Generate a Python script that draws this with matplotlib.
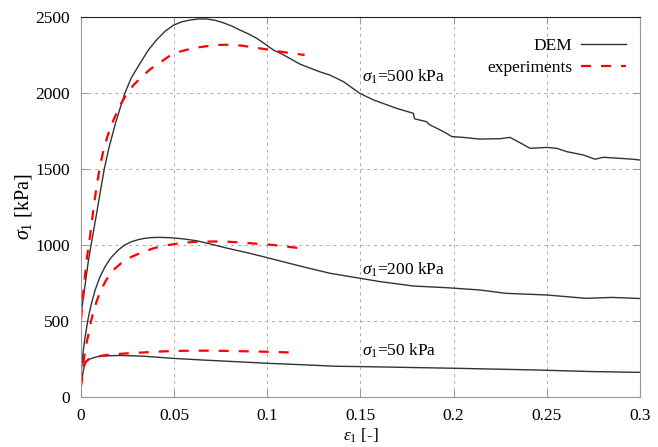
import matplotlib
matplotlib.use('Agg')
import matplotlib.pyplot as plt

plt.rcParams['font.family'] = ['Liberation Serif', 'DejaVu Serif']
plt.rcParams['mathtext.fontset'] = 'custom'
plt.rcParams['mathtext.rm'] = 'Liberation Serif'
plt.rcParams['mathtext.it'] = 'Liberation Serif:italic'

# DEM curves (eps1, sigma1)
dem500_e = [0, 0.002, 0.0039, 0.0054, 0.008, 0.0105, 0.0125, 0.015, 0.0185, 0.021,
            0.0236, 0.027, 0.0317, 0.036, 0.0406, 0.045, 0.0495, 0.054, 0.0585, 0.063,
            0.0675, 0.072, 0.0764, 0.081, 0.0853, 0.09, 0.0943, 0.099, 0.1032, 0.108,
            0.112, 0.1175, 0.121, 0.128, 0.1336, 0.1408, 0.1497, 0.157, 0.1694, 0.1784,
            0.179, 0.1855, 0.187, 0.1927, 0.1962, 0.199, 0.205, 0.2105, 0.214, 0.2249,
            0.2302, 0.2356, 0.241, 0.25, 0.2553, 0.2607, 0.2696, 0.2759, 0.2803, 0.2893,
            0.2964, 0.3]
dem500_s = [540, 720, 890, 1000, 1180, 1360, 1500, 1640, 1800, 1900,
            2000, 2100, 2195, 2280, 2350, 2405, 2445, 2468, 2480, 2487,
            2487, 2478, 2462, 2440, 2414, 2388, 2360, 2320, 2283, 2255,
            2228, 2190, 2173, 2140, 2118, 2075, 1997, 1954, 1899, 1866,
            1830, 1811, 1792, 1757, 1734, 1713, 1708, 1701, 1697, 1699,
            1708, 1673, 1636, 1642, 1636, 1614, 1592, 1564, 1577, 1570,
            1564, 1559]

dem200_e = [0, 0.001, 0.002, 0.0039, 0.0055, 0.0075, 0.01, 0.0129, 0.016, 0.02,
            0.0235, 0.0272, 0.031, 0.0343, 0.038, 0.042, 0.0478, 0.055, 0.062, 0.069,
            0.0764, 0.083, 0.0907, 0.1014, 0.11, 0.119, 0.1336, 0.1497, 0.1605, 0.1784,
            0.1962, 0.214, 0.228, 0.25, 0.271, 0.285, 0.3]
dem200_s = [150, 280, 380, 520, 610, 700, 785, 857, 915, 967,
            1000, 1022, 1036, 1044, 1049, 1050, 1048, 1040, 1028, 1008,
            985, 966, 945, 912, 885, 857, 814, 781, 759, 730,
            719, 704, 682, 671, 649, 655, 648]

dem50_e = [0, 0.0006, 0.0012, 0.002, 0.0027, 0.004, 0.0057, 0.008, 0.011, 0.0147,
           0.021, 0.028, 0.035, 0.0495, 0.0656, 0.0835, 0.1014, 0.119, 0.137, 0.15,
           0.2, 0.243, 0.275, 0.3]
dem50_s = [60, 130, 170, 210, 232, 246, 254, 263, 268, 271,
           273, 271, 267, 254, 243, 232, 221, 212, 202, 200,
           189, 178, 167, 162]

# experiments
exp500_e = [0, 0.0015, 0.003, 0.0048, 0.0066, 0.0084, 0.0102, 0.012, 0.0138, 0.016,
            0.0182, 0.021, 0.0236, 0.028, 0.0326, 0.037, 0.0424, 0.047, 0.053, 0.06,
            0.0675, 0.074, 0.08, 0.086, 0.0925, 0.099, 0.105, 0.112, 0.12]
exp500_s = [510, 720, 901, 1055, 1230, 1390, 1520, 1620, 1700, 1780,
            1844, 1920, 1976, 2050, 2107, 2155, 2200, 2240, 2272, 2295,
            2308, 2316, 2318, 2312, 2300, 2288, 2276, 2263, 2250]

exp200_e = [0, 0.0015, 0.0027, 0.0039, 0.0052, 0.0066, 0.0084, 0.0102, 0.0135, 0.0173,
            0.022, 0.0272, 0.033, 0.0388, 0.046, 0.053, 0.06, 0.0656, 0.072, 0.078,
            0.085, 0.0916, 0.098, 0.103, 0.11, 0.118]
exp200_s = [90, 250, 340, 408, 490, 560, 630, 691, 770, 835,
            885, 923, 953, 978, 998, 1012, 1019, 1022, 1023, 1022,
            1017, 1011, 1005, 1000, 990, 978]

exp50_e = [0, 0.0006, 0.0012, 0.0025, 0.0048, 0.0084, 0.013, 0.019, 0.026, 0.0334,
           0.044, 0.055, 0.069, 0.083, 0.098, 0.115]
exp50_s = [70, 140, 200, 232, 254, 266, 275, 282, 288, 293,
           300, 304, 305, 302, 298, 292]

labels = [r'$\sigma_{\mathit{1}}$=500 kPa', r'$\sigma_{\mathit{1}}$=200 kPa', r'$\sigma_{\mathit{1}}$=50 kPa']
label_y = [2105, 835, 303]

fig = plt.figure(figsize=(6.58, 4.47), dpi=100)
ax = fig.add_axes([0.1231, 0.1119, 0.8495, 0.8501])

dem_kw = dict(color='#333333', lw=1.0)
exp_kw = dict(color='#ff0000', lw=1.6, dashes=(4.5, 4.5))
ax.plot(dem500_e, dem500_s, label='DEM', **dem_kw)
ax.plot(exp500_e, exp500_s, label='experiments', **exp_kw)
ax.plot(dem200_e, dem200_s, **dem_kw)
ax.plot(exp200_e, exp200_s, **exp_kw)
ax.plot(dem50_e, dem50_s, **dem_kw)
ax.plot(exp50_e, exp50_s, **exp_kw)

for lab, yy in zip(labels, label_y):
    ax.text(0.1506, yy, lab, fontsize=12.5, va='center', ha='left')

ax.set_xlim(0, 0.3)
ax.set_ylim(0, 2500)
ax.set_xticks([0, 0.05, 0.1, 0.15, 0.2, 0.25, 0.3])
ax.set_xticklabels(['0', '0.05', '0.1', '0.15', '0.2', '0.25', '0.3'])
ax.set_yticks([0, 500, 1000, 1500, 2000, 2500])
ax.tick_params(direction='in', length=5, width=0.8, color='#999999',
               labelsize=12.5, top=True, right=True, pad=8)
ax.grid(True, color='#aaaaaa', linestyle=(0, (3, 4)), linewidth=0.7)
for side in ['left', 'bottom', 'right']:
    ax.spines[side].set_color('#999999')
ax.spines['top'].set_color('#222222')

ax.set_xlabel(r'$\varepsilon_{\mathit{1}}$ [-]', fontsize=12.5, labelpad=2)
ax.set_ylabel(r'$\sigma_{\mathit{1}}$ [kPa]', fontsize=14.5, labelpad=1)

ax.legend(loc='upper right', frameon=False, markerfirst=False, fontsize=12.5,
          handlelength=2.6, handletextpad=0.5, labelspacing=0.3,
          bbox_to_anchor=(1.003, 0.985))

fig.savefig('out.png', dpi=100)
